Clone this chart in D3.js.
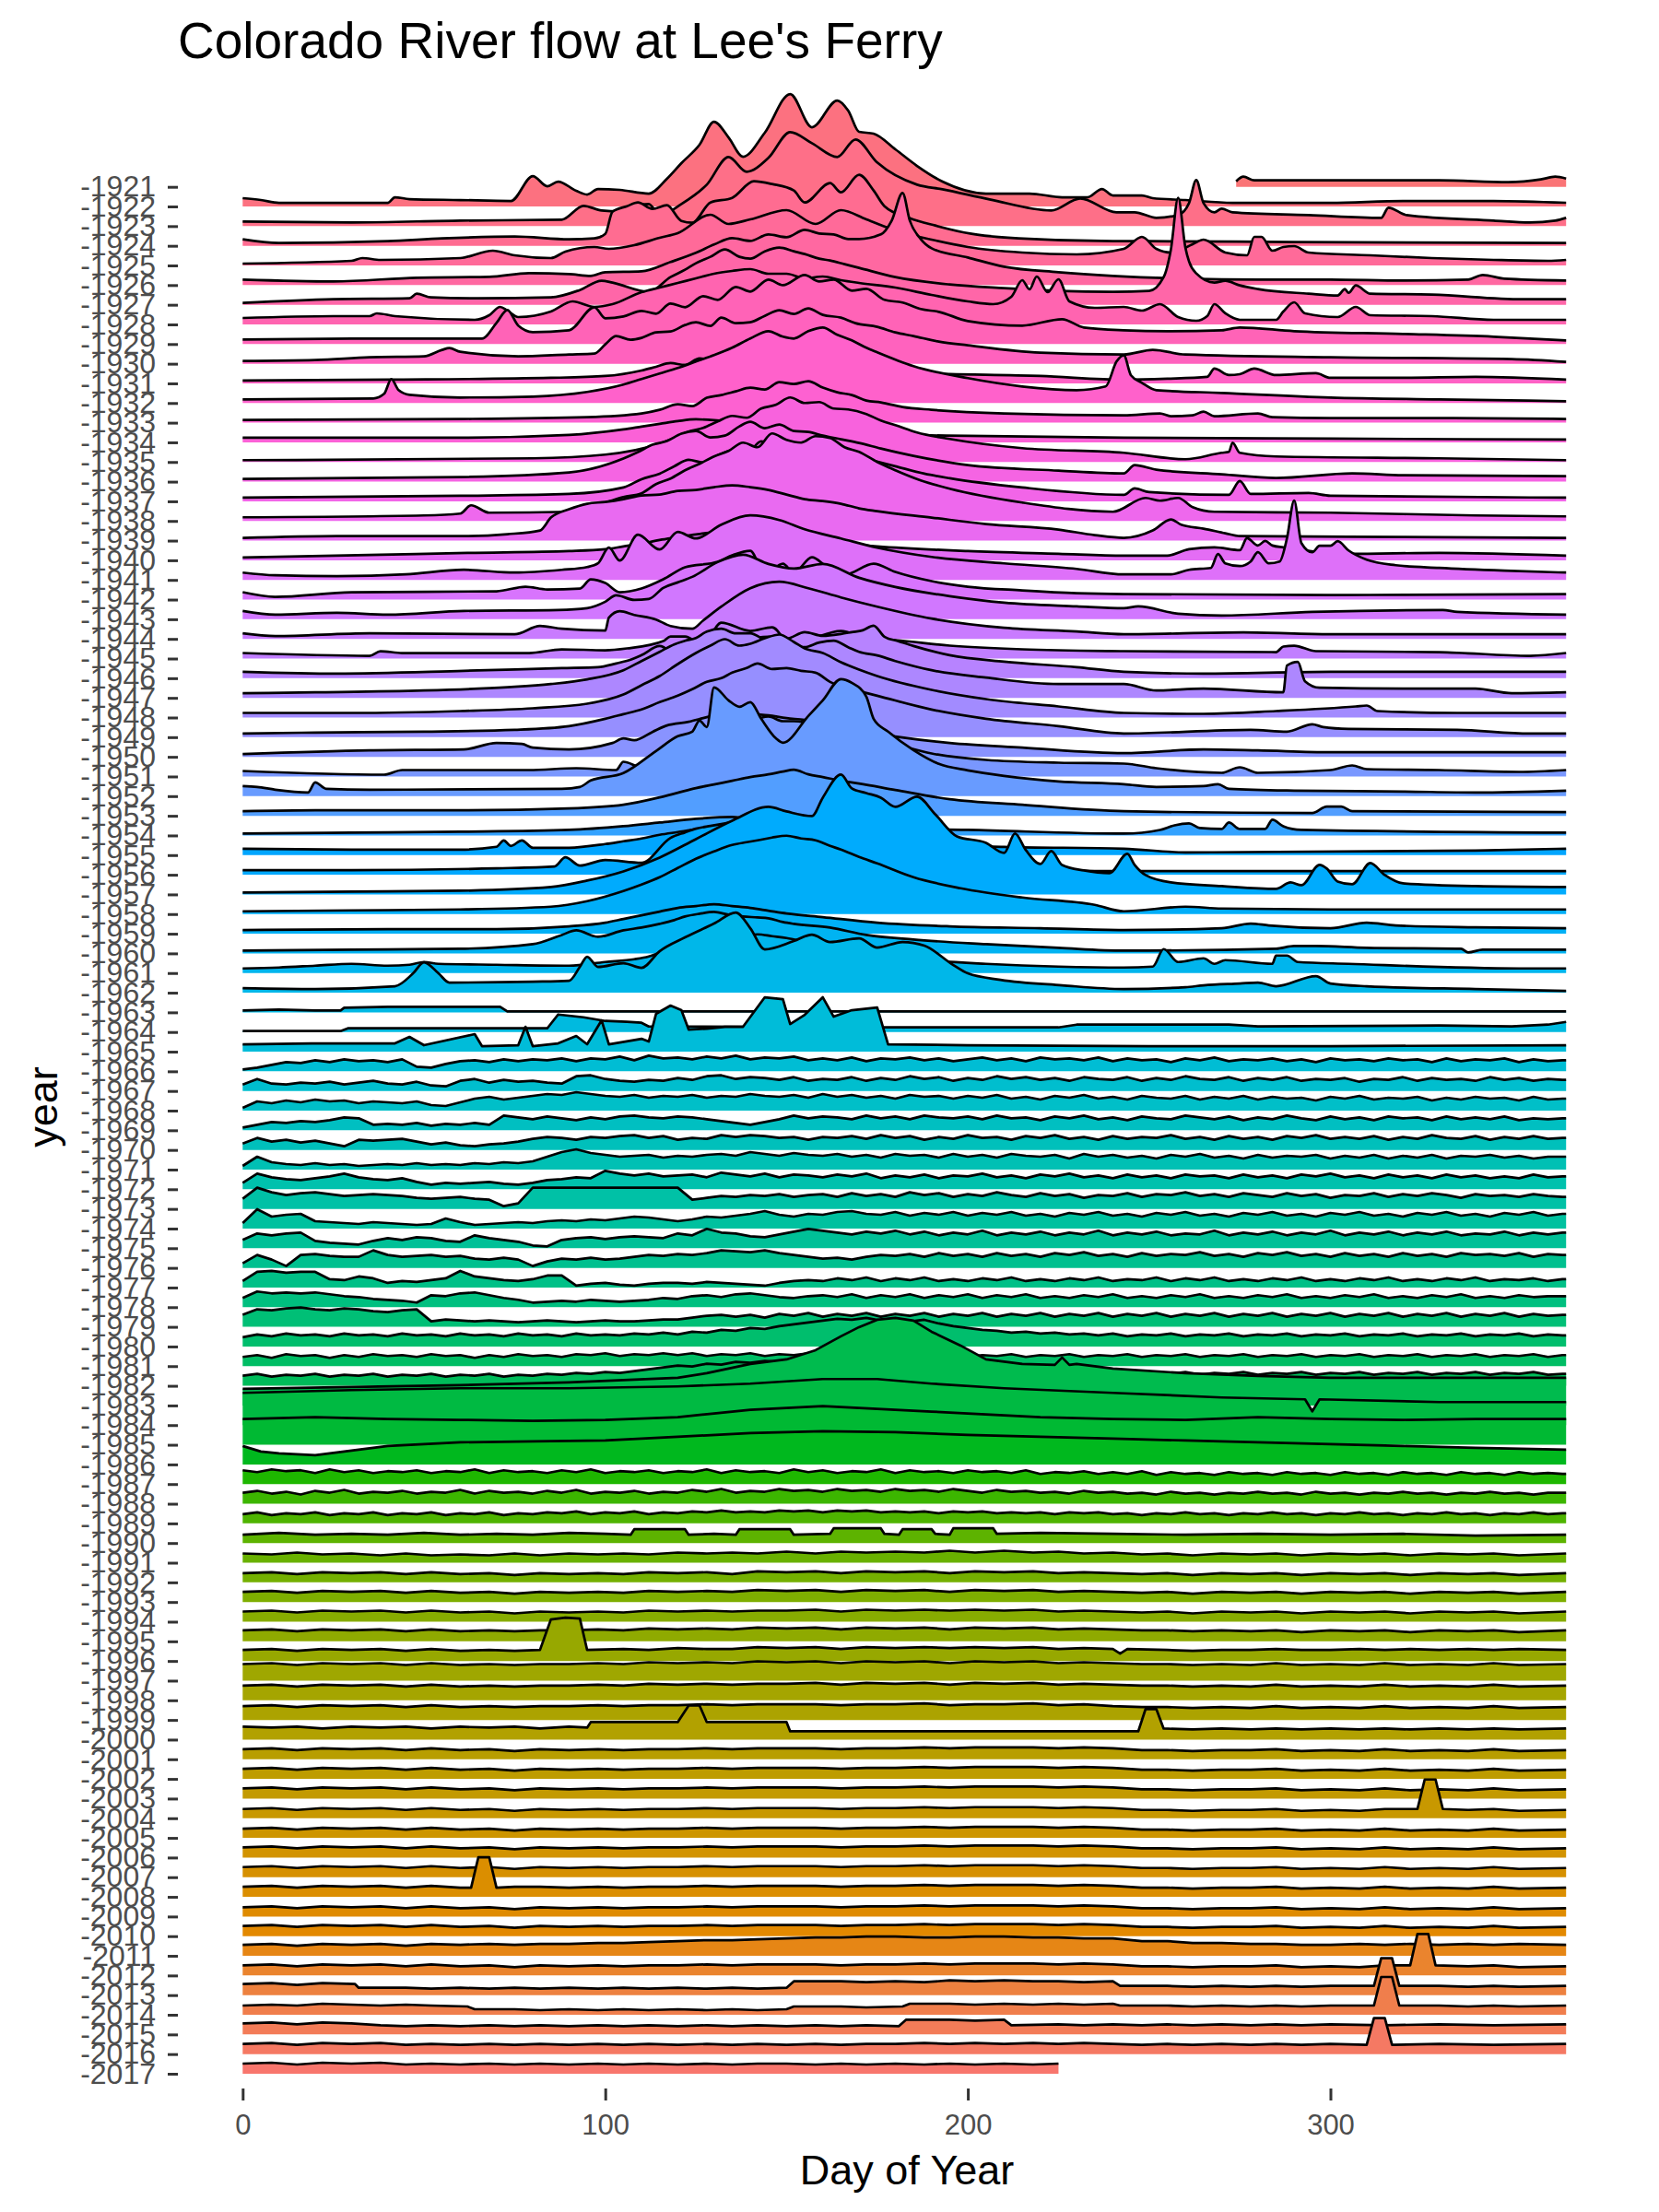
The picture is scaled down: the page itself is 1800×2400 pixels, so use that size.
<!DOCTYPE html>
<html><head><meta charset="utf-8">
<script src="https://cdn.jsdelivr.net/npm/d3@7"></script>
<style>
body{margin:0;background:#fff}
svg{display:block}
text{font-family:"Liberation Sans",Arial,Helvetica,sans-serif}
</style>
</head><body>
<svg id="chart" width="1800" height="2400"></svg>
<script>
// ---------- DATA: flow (thousand cfs). f-arrays: key points [day, flow, ...]; g-arrays: evenly spaced ~4-day readings over the year ----------
const f1921=[274,6,276,11,279,7,300,7,330,7,349,5,358,8,362,11,365,9];
const f1922=[0,9,5,7,10,4,40,4,42,10,46,8,60,7,74,6,80,33,84,22,87,27,92,17,95,13,98,19,104,18,112,14,117,30,121,47,126,67,130,92,134,75,138,54,144,80,151,122,157,86,164,115,167,104,170,81,174,79,180,62,186,44,193,27,205,14,217,14,226,10,233,10,237,19,240,12,248,12,251,9,260,7,273,4,300,4,320,6,345,6,365,4];
const f1923=[0,5,30,4,60,6,88,7,94,22,99,17,104,16,108,22,112,24,115,12,121,24,128,45,134,75,139,59,145,74,151,102,157,90,164,75,169,94,175,69,186,45,193,40,206,29,223,17,231,30,241,15,246,15,252,9,258,12,261,25,263,50,265,25,268,15,270,19,273,15,294,12,314,9,316,20,321,12,345,6,355,4,362,6,365,9];
const f1924=[0,7,10,3,40,5,55,8,75,10,90,7,97,8,100,13,102,37,106,43,109,47,113,40,117,44,121,27,124,25,129,47,135,52,141,70,146,67,152,60,155,47,162,68,165,58,170,77,174,60,177,43,184,30,191,22,201,13,214,8,240,5,250,5,290,4,365,3];
const f1925=[0,2,30,5,33,8,38,6,60,8,69,16,75,11,85,8,89,15,97,20,101,18,108,22,115,30,120,35,129,55,134,45,140,50,150,60,158,45,165,60,172,50,180,38,190,28,200,20,215,14,230,12,243,18,248,31,252,18,256,14,262,23,265,28,271,14,277,11,279,31,281,31,284,16,287,20,290,21,294,14,311,11,328,8,345,6,360,5,365,6];
const f1926=[0,6,25,4,48,8,68,9,79,13,90,12,96,10,100,14,110,15,118,25,125,35,130,44,135,51,140,48,145,55,150,52,155,60,159,56,163,55,167,50,170,50,176,55,179,70,182,100,184,70,187,50,190,40,200,30,210,20,225,14,240,10,260,7,280,6,300,6,320,5,338,6,342,11,348,7,365,5];
const f1927=[0,2,25,6,46,7,48,12,52,8,65,7,85,8,93,16,99,26,102,24,112,14,118,30,122,38,125,45,129,52,133,60,137,52,140,50,144,58,148,62,152,58,155,55,159,50,162,48,166,44,170,40,180,30,195,22,210,18,225,15,240,14,250,15,254,30,256,60,258,116,260,62,261,47,263,34,268,24,271,26,275,21,280,17,294,12,302,10,304,17,305,13,307,21,311,12,328,11,353,6,365,6];
const f1928=[0,7,25,9,35,9,37,12,42,9,64,5,68,10,71,19,73,15,76,8,85,14,91,25,97,19,102,22,110,35,115,40,120,45,125,50,130,55,135,58,140,60,145,55,150,55,155,50,160,52,165,48,170,45,180,40,190,32,200,25,207,22,212,30,215,48,217,38,219,52,222,35,225,49,228,25,235,18,243,19,248,15,253,22,258,8,263,4,266,9,268,22,271,12,275,5,285,5,287,14,290,24,293,12,302,8,307,19,311,10,328,9,345,5,365,5];
const f1929=[0,5,30,6,60,6,66,6,70,23,73,37,76,20,80,13,90,15,97,40,100,28,105,30,110,36,114,33,118,44,122,40,127,52,131,48,136,62,140,57,145,70,149,64,155,75,159,68,163,70,168,58,172,60,177,48,182,45,187,38,192,35,200,25,215,20,226,27,232,18,243,15,255,14,270,15,275,18,290,14,320,11,345,8,365,4];
const f1930=[0,3,20,4,35,7,50,8,55,15,57,17,60,13,76,8,90,10,97,11,100,21,103,30,107,26,110,28,114,34,118,35,122,42,125,45,129,41,132,50,136,44,140,45,144,52,148,58,152,54,156,60,160,53,165,50,169,44,175,40,180,34,185,30,192,24,200,20,220,12,243,10,251,15,260,10,300,7,350,5,365,2];
const f1931=[0,3,40,4,85,6,100,8,110,14,114,18,118,22,122,20,126,27,130,25,135,30,139,26,142,28,146,22,150,24,155,18,160,16,175,12,195,10,220,8,243,4,255,5,266,7,268,16,272,9,275,10,279,16,285,9,296,11,300,6,320,6,340,7,365,4];
const f1932=[0,4,36,5,39,10,41,26,43,14,46,9,60,6,80,7,95,12,105,20,110,26,115,32,120,38,125,45,130,52,135,60,140,70,145,78,149,72,152,70,156,78,160,82,164,74,168,68,172,60,175,55,185,40,200,27,215,18,230,14,238,18,241,45,243,52,245,30,248,22,252,14,270,11,300,6,330,4,365,2];
const f1933=[0,3,60,4,95,6,110,10,115,14,120,20,124,18,128,27,132,30,136,34,140,38,144,36,148,44,152,42,156,45,160,38,164,33,168,30,172,24,176,22,182,17,190,14,210,10,243,8,253,10,256,7,262,8,265,12,268,7,280,10,284,6,300,5,334,5,365,4];
const f1934=[0,5,60,5,90,8,105,14,110,17,115,20,120,23,125,25,130,24,135,22,140,18,145,15,160,10,200,7,243,5,300,4,365,3];
const f1935=[0,2,80,4,100,8,115,20,119,26,123,33,127,37,131,44,135,50,139,48,143,58,147,62,151,70,155,64,159,65,163,58,167,57,172,52,176,45,180,40,186,32,195,25,215,15,243,10,260,3,270,10,272,11,273,21,275,10,285,6,330,4,365,2];
const f1936=[0,3,60,5,90,10,105,25,109,32,113,40,117,44,121,52,125,55,129,48,133,50,137,60,140,65,144,58,148,62,152,55,156,54,160,50,165,46,170,42,176,36,185,28,200,18,225,12,243,9,246,18,252,13,270,8,285,4,306,9,320,7,365,6];
const f1937=[0,4,60,6,90,8,105,15,110,24,115,30,119,38,123,45,127,42,131,50,135,55,139,52,143,65,147,60,151,58,155,62,160,60,164,52,168,50,173,45,180,38,188,30,195,25,215,15,243,7,246,14,250,10,272,7,275,22,278,8,294,9,300,6,365,4];
const f1938=[0,4,50,6,60,8,63,17,68,9,90,10,100,20,105,26,110,30,114,40,118,46,122,55,126,62,130,70,134,76,138,85,142,80,146,95,150,88,154,85,158,92,162,90,166,80,170,75,175,64,180,55,187,44,195,35,215,20,240,10,249,25,253,22,258,25,262,15,268,10,300,9,340,6,365,5];
const f1939=[0,3,26,5,61,5,73,7,82,11,85,25,90,34,95,40,100,42,105,45,110,49,115,50,120,54,125,55,130,58,135,60,140,58,145,55,150,50,155,45,160,43,165,40,170,35,175,32,190,25,205,18,225,12,235,6,243,3,251,11,256,23,259,17,265,13,271,8,275,5,320,4,365,3];
const f1940=[0,3,38,6,62,8,90,10,100,12,105,15,110,18,115,22,120,25,125,28,130,30,135,29,140,28,145,27,150,25,155,22,160,20,175,15,200,10,225,7,243,5,255,5,261,12,268,14,275,11,277,24,280,16,282,21,284,16,287,14,305,7,330,8,365,5];
const f1941=[0,8,9,5,26,4,45,6,61,11,75,8,88,11,95,14,98,18,101,35,104,21,109,49,115,33,120,52,125,45,132,60,140,70,148,65,155,55,165,45,175,35,190,25,210,18,230,12,243,6,256,6,261,11,267,13,269,28,271,18,275,15,278,20,280,30,283,18,286,20,288,45,290,86,292,40,295,30,297,37,300,37,302,42,305,32,310,22,318,16,330,13,348,10,365,8];
const f1942=[0,8,9,3,30,8,70,9,78,14,84,11,93,12,96,22,100,18,104,8,110,12,116,22,122,35,131,41,135,48,140,53,144,27,149,39,152,29,157,46,161,36,166,27,174,39,180,30,190,20,200,14,215,10,230,7,243,6,300,5,365,6];
const f1943=[0,9,9,5,26,7,40,5,61,9,87,10,95,12,100,19,103,26,108,21,112,22,116,34,120,40,124,46,131,62,138,70,145,60,152,55,160,60,170,45,180,35,195,25,210,18,230,14,243,12,247,14,258,6,270,4,295,8,331,10,335,8,365,5];
const f1944=[0,6,9,3,35,6,75,5,82,14,88,11,100,9,101,23,104,30,108,26,114,21,118,14,124,11,127,20,132,35,140,55,148,62,156,55,165,45,175,35,190,22,210,12,230,8,243,5,276,7,300,5,365,5];
const f1945=[0,6,35,3,38,8,44,6,79,6,88,10,100,9,106,11,116,19,118,24,122,24,127,15,132,39,140,30,146,34,152,10,159,24,165,30,172,22,180,20,195,14,215,10,243,8,285,7,287,13,290,14,296,8,330,7,355,3,365,6];
const f1946=[0,7,26,5,61,8,88,11,98,12,103,16,107,20,110,25,115,35,120,25,123,28,126,30,130,36,135,40,139,37,142,44,145,45,150,43,155,50,160,46,165,48,168,50,171,52,174,57,177,45,181,40,185,35,195,25,210,18,230,12,243,7,265,5,300,7,330,7,365,7];
const f1947=[0,5,20,6,50,8,65,10,75,12,85,15,95,20,105,30,110,40,115,50,119,58,122,62,125,65,128,72,132,75,136,70,140,70,144,63,148,60,152,57,155,55,159,60,163,62,167,55,170,50,175,46,180,40,190,30,205,22,225,15,243,15,252,8,265,10,287,6,288,35,291,39,293,18,297,11,320,10,340,10,350,5,365,6];
const f1948=[0,5,30,5,60,7,80,10,95,15,105,25,110,35,115,45,120,58,125,70,129,78,133,85,137,78,140,80,144,86,148,90,152,82,155,75,160,70,165,60,170,52,175,45,190,30,205,20,225,12,243,5,265,4,285,7,307,12,310,13,313,7,335,5,365,5];
const f1949=[0,4,20,5,50,6,75,8,90,12,100,20,105,25,110,30,115,38,120,45,124,52,128,60,132,64,135,70,139,75,142,80,146,74,150,75,154,72,158,70,162,60,165,55,170,50,175,45,190,30,205,20,225,12,243,4,278,8,288,6,295,14,298,11,305,9,335,8,355,4,365,4];
const f1950=[0,3,35,7,61,8,70,15,77,14,80,10,90,8,102,15,105,20,108,18,113,27,117,34,123,38,127,42,130,45,133,48,136,50,140,47,145,45,150,42,155,40,160,36,165,32,180,22,195,15,215,10,243,4,265,8,280,7,300,5,365,5];
const f1951=[0,6,39,2,44,7,79,7,92,9,103,7,105,16,110,10,115,25,119,34,122,40,126,47,130,55,134,57,138,60,142,63,145,65,149,60,152,60,156,58,160,55,165,50,170,45,180,35,190,25,205,18,225,15,243,14,252,9,270,4,275,10,280,4,300,7,306,12,310,8,330,7,352,5,365,7];
const f1952=[0,11,4,10,9,7,18,4,20,15,23,8,35,7,88,8,93,10,96,17,105,25,114,49,120,65,124,70,126,82,128,75,130,118,134,104,137,97,140,102,143,84,147,63,149,58,156,87,160,104,165,127,168,123,172,108,174,84,178,70,185,50,192,35,200,28,210,22,225,16,243,13,252,10,265,11,269,13,272,8,290,6,320,5,340,4,365,6];
const f1953=[0,5,20,6,60,6,90,8,105,12,115,20,120,25,125,30,130,34,135,38,140,42,145,45,149,48,152,50,156,45,160,42,165,38,170,35,180,28,195,18,215,12,243,5,295,3,299,10,303,10,306,5,365,4];
const f1954=[0,2,30,3,60,4,90,6,105,10,115,14,125,18,135,20,145,15,155,10,170,8,200,6,243,2,253,6,257,11,261,13,264,8,270,7,272,14,275,7,282,7,284,17,287,10,292,6,365,3];
const f1955=[0,7,30,6,60,6,70,9,72,16,74,10,77,16,80,8,90,8,100,12,105,15,110,18,115,22,120,25,125,28,130,30,135,33,140,35,144,36,148,38,152,34,155,32,160,28,165,25,175,18,190,12,210,9,243,7,260,3,340,5,365,7];
const f1956=[0,5,30,5,70,7,86,9,89,19,93,10,100,16,110,13,118,40,122,46,125,50,129,53,132,55,136,58,140,60,144,57,148,55,153,50,158,45,168,35,180,25,195,15,215,10,235,4,243,4,300,4,365,4];
const f1957=[0,2,30,3,60,4,85,8,95,15,105,25,115,40,125,60,135,80,145,95,150,90,157,85,160,105,165,130,168,115,172,110,176,105,180,95,186,106,191,87,197,63,205,56,210,45,213,66,216,48,220,33,223,47,226,32,232,26,239,23,244,44,246,32,249,21,256,13,270,9,285,6,289,13,292,10,297,32,299,28,302,14,306,11,311,34,315,21,320,12,340,9,365,8];
const f1958=[0,3,30,4,60,5,85,8,95,14,105,25,110,32,115,40,120,50,125,60,130,68,135,75,139,78,142,80,146,83,150,85,154,82,158,80,162,74,165,70,170,62,175,55,185,40,198,28,215,18,235,10,243,3,260,8,270,6,300,5,365,5];
const f1959=[0,4,40,5,70,5,90,8,100,12,105,16,110,20,115,24,120,28,125,30,130,32,135,30,140,28,145,25,150,22,160,18,175,12,195,8,220,6,243,4,270,6,278,11,283,9,300,6,310,12,318,9,340,7,365,6];
const f1960=[0,3,30,4,60,5,80,10,88,20,92,25,98,18,105,25,110,28,115,32,119,36,122,40,126,43,130,45,134,42,138,40,142,39,145,38,149,34,152,32,162,28,172,20,185,15,205,10,225,6,243,3,285,5,290,8,296,8,310,6,336,5,338,1,342,4,365,4];
const f1961=[0,5,10,6,20,8,30,10,40,8,46,9,50,12,54,10,70,9,90,8,100,12,108,15,112,18,115,22,120,26,125,30,130,34,135,38,139,40,142,42,146,40,150,38,155,34,160,30,170,22,185,15,205,10,225,7,243,6,251,7,254,26,258,12,265,16,268,10,271,14,284,10,285,19,288,19,291,12,305,10,352,5,365,5];
const f1962=[0,5,20,4,42,7,47,21,50,33,54,21,57,11,80,12,90,13,93,28,95,39,98,28,105,32,110,27,115,45,122,60,130,75,136,87,140,70,144,47,152,56,157,63,162,55,170,59,175,49,182,55,188,51,196,30,200,21,209,14,226,8,243,4,260,6,265,8,275,10,280,11,285,7,296,18,300,10,310,7,340,4,365,2];
const f1963=[0,2,10,3,20,2,27,2,28,5,40,6,60,6,71,6,73,1,120,1,200,1,300,1,365,1];
const f1964=[0,1,27,1,29,4,60,4,84,4,87,19,94,16,100,12,106,11,110,10,112,6,175,5,225,5,230,8,272,8,280,6,330,7,350,6,360,8,365,11];
const f1965=[0,8,19,9,42,9,46,16,50,7,64,19,66,6,76,7,78,27,80,6,87,9,92,17,95,8,99,34,101,8,110,14,112,11,114,41,118,50,121,45,123,24,128,25,133,27,138,27,144,59,149,57,151,30,155,40,160,59,163,38,168,45,175,48,178,8,200,7,250,6,300,6,365,7];
const g1966=[2,4,7,10,9,12,10,13,11,12,10,13,5,4,8,11,12,10,13,11,13,12,14,11,14,13,16,12,17,14,15,13,16,14,17,13,15,14,16,12,14,12,15,11,14,13,15,12,14,11,13,15,12,14,11,15,13,14,12,15,11,14,12,13,10,14,12,15,11,13,12,14,11,13,10,14,12,13,11,14,12,13,10,14,11,13,12,14,10,13,11,12];
const g1967=[7,13,8,7,9,8,10,7,9,11,8,7,10,6,5,11,13,9,12,10,11,9,8,16,17,13,11,10,12,11,14,12,16,17,13,15,14,12,15,11,13,12,15,11,14,12,16,13,15,11,14,12,16,13,15,12,14,11,15,13,12,15,11,14,12,16,13,12,15,11,14,12,15,11,13,12,14,10,13,12,15,11,14,12,13,11,15,12,14,11,13,12];
const g1968=[3,10,8,11,9,12,10,11,8,10,9,8,10,6,5,9,13,15,12,14,16,18,17,20,18,16,15,17,14,16,15,17,14,16,15,18,16,15,17,14,18,15,17,14,16,13,17,15,16,13,16,14,17,13,15,12,16,14,17,13,15,12,16,14,13,16,12,15,13,16,12,15,13,14,11,15,13,16,12,14,13,15,11,14,12,15,13,14,11,15,12,13];
const g1969=[3,6,9,8,10,9,11,14,13,6,7,6,8,5,7,6,8,6,16,14,12,15,13,11,14,12,15,16,14,13,15,14,12,10,8,6,9,12,16,13,15,14,12,16,13,15,12,16,14,13,15,12,16,13,14,11,15,13,16,12,14,11,15,13,12,16,14,12,15,11,14,12,16,13,11,15,12,14,11,15,13,14,11,15,12,14,12,15,11,13,12,13];
const g1970=[7,13,9,11,8,10,7,4,11,10,11,12,9,6,8,5,4,6,7,9,12,14,13,11,14,13,15,16,13,15,11,13,12,16,14,16,15,13,14,11,14,13,15,12,16,13,15,11,14,12,16,13,14,11,15,13,16,12,14,11,15,12,14,13,16,12,14,11,15,12,14,11,15,13,16,12,14,12,15,11,14,12,16,13,12,15,11,14,12,15,12,13];
const g1971=[4,14,8,6,5,7,5,6,4,5,6,5,7,5,6,5,7,6,8,7,9,14,19,22,18,16,14,15,16,13,15,14,16,17,15,19,17,15,18,16,15,17,14,16,13,17,15,16,13,17,14,16,13,17,15,14,16,12,17,14,16,13,15,12,16,14,17,13,15,12,16,13,15,14,16,12,15,13,16,12,15,13,16,12,15,14,16,13,15,12,14,14];
const g1972=[7,17,13,11,10,12,14,17,13,11,10,12,8,5,7,6,7,8,6,5,7,10,11,13,12,20,17,15,17,14,15,16,13,18,16,14,17,13,16,15,13,16,14,17,12,15,13,16,12,15,14,17,13,15,12,16,14,17,13,15,12,16,13,15,12,16,14,15,12,16,13,15,12,16,14,17,13,15,12,16,13,15,12,16,13,15,12,14,12,16,13,14];
const g1973=[11,23,18,15,17,18,16,14,15,16,15,14,12,11,12,13,11,10,3,6,23,23,23,23,23,23,23,23,23,23,23,10,12,14,13,15,14,16,13,15,16,13,17,14,16,13,18,15,17,13,16,14,18,15,13,17,14,16,12,15,14,17,13,16,15,18,14,16,13,17,15,13,17,14,16,12,15,14,17,13,16,14,17,15,12,16,14,15,13,16,14,13];
const g1974=[6,21,13,15,16,8,7,6,5,7,6,5,4,5,11,7,4,5,6,7,6,8,9,8,10,9,11,13,12,10,8,10,13,12,14,16,19,15,13,16,15,18,19,16,15,18,14,17,15,18,14,17,15,18,14,16,13,17,15,18,14,16,13,17,15,18,14,16,13,17,15,18,14,16,13,17,15,18,14,16,13,17,15,18,14,16,13,17,15,18,14,16];
const g1975=[9,16,14,16,17,8,6,5,4,8,11,9,12,11,8,7,14,11,9,7,3,2,9,11,12,10,12,13,12,11,16,14,21,17,16,13,12,15,18,21,19,17,15,18,16,19,15,18,14,17,15,19,14,17,15,18,14,17,15,19,14,17,15,18,14,16,15,19,14,17,15,18,14,17,15,19,14,17,15,18,14,17,15,18,14,16,15,18,14,17,15,17];
const g1976=[5,14,9,2,14,15,13,12,12,19,14,12,13,14,12,13,10,9,11,9,2,7,10,9,11,9,10,12,14,13,15,14,16,19,18,17,19,16,14,12,10,11,9,12,14,13,15,12,16,13,15,12,16,13,15,12,16,14,17,13,15,12,16,13,15,14,17,13,15,12,16,14,17,13,15,12,16,13,15,12,16,13,15,12,16,14,15,13,16,12,15,14];
const g1977=[7,17,18,16,17,17,9,8,12,10,5,7,6,8,10,18,12,10,8,7,9,13,13,2,4,5,3,2,4,5,5,4,6,5,4,3,2,5,7,8,7,10,8,11,7,10,8,11,7,9,7,10,8,11,7,9,7,10,8,11,7,9,8,11,7,10,8,11,7,9,7,10,8,11,7,9,7,10,8,11,7,9,7,10,8,11,7,9,8,10,7,9];
const g1978=[10,17,15,16,15,16,14,12,11,9,8,7,5,13,12,15,16,13,10,8,5,6,7,6,8,7,6,7,8,10,9,12,13,11,14,15,13,11,10,12,13,11,14,10,13,11,14,10,13,11,14,10,13,11,14,10,12,10,13,11,14,10,12,10,13,11,14,10,12,10,13,11,14,10,12,10,13,11,14,10,12,10,13,11,14,10,12,10,13,11,12,12];
const g1979=[13,19,18,20,21,19,18,20,19,17,16,18,19,6,8,7,6,7,6,5,6,7,6,5,6,7,6,6,7,8,8,10,12,13,11,13,10,14,12,15,11,14,12,15,11,14,12,15,11,14,12,15,11,14,12,15,11,14,12,15,11,14,12,15,11,14,12,15,11,14,12,15,11,14,12,15,11,14,12,15,11,14,12,15,11,14,12,15,11,14,12,13];
const g1980=[10,13,11,14,12,13,11,14,12,13,11,14,12,13,11,14,12,13,11,14,12,13,11,14,12,13,12,14,13,15,13,16,15,18,17,20,19,22,24,26,28,30,29,31,28,30,27,29,25,22,20,18,17,15,16,14,15,13,14,12,14,11,13,12,14,11,13,12,14,11,13,12,14,11,13,12,14,11,13,12,14,11,13,12,14,11,13,12,14,11,13,12];
const g1981=[10,12,9,13,11,12,9,12,10,13,11,12,10,13,11,12,9,12,10,13,11,12,10,13,12,14,11,13,12,14,12,14,11,13,12,14,11,13,12,14,11,13,12,14,11,13,10,12,11,13,10,12,11,13,10,12,11,13,10,12,11,13,10,12,11,13,10,12,11,13,10,12,11,13,10,12,11,13,10,12,11,13,10,12,11,13,10,12,11,13,10,12];
const g1982=[11,13,10,12,11,13,10,12,11,13,10,12,11,13,10,12,11,13,10,12,11,13,12,14,13,15,14,16,18,20,22,21,24,23,26,25,27,26,28,27,28,26,27,25,28,26,27,25,26,24,25,23,24,22,21,19,18,16,15,14,13,15,12,14,13,15,12,14,13,15,12,14,13,15,12,14,13,15,12,14,13,15,12,14,13,15,12,14,13,15,12,13];
const f1983=[0,18,30,20,60,22,90,25,120,30,128,35,140,45,150,50,158,60,165,75,170,85,175,93,180,95,185,92,190,80,198,65,205,50,215,45,224,44,226,52,228,44,230,45,240,40,260,35,280,32,300,30,330,30,365,30];
const f1984=[0,35,30,38,60,40,90,40,120,42,140,45,160,50,175,50,190,45,210,40,240,35,270,30,293,28,295,15,297,28,330,25,365,25];
const f1985=[0,28,20,30,40,28,60,27,80,26,100,27,120,30,130,34,140,38,150,40,160,42,170,40,180,38,190,36,200,34,210,32,220,30,240,28,260,27,280,30,300,28,320,27,340,28,365,28];
const f1986=[0,20,5,14,10,12,20,10,30,15,40,20,50,22,60,24,80,25,100,26,120,30,140,34,160,36,180,35,200,32,220,30,240,28,260,26,280,24,300,22,320,20,340,18,365,16];
const g1987=[15,13,16,14,15,12,16,13,15,12,14,13,15,12,14,13,16,12,15,13,14,12,15,13,16,12,14,13,15,12,14,13,16,12,15,13,14,12,16,13,15,12,14,13,16,12,15,13,14,12,15,13,14,12,15,11,13,12,14,11,13,11,14,10,13,11,12,10,13,11,12,10,13,11,12,10,13,11,12,10,13,11,12,10,13,11,12,10,13,11,12,11];
const g1988=[12,14,11,13,10,14,12,15,11,13,12,14,11,13,12,15,11,14,12,13,11,14,12,15,11,13,12,14,11,13,12,15,13,16,12,14,13,16,14,15,13,16,14,15,13,16,14,15,13,16,14,12,15,13,14,12,13,11,14,12,13,11,12,10,13,11,12,10,12,11,13,11,12,10,13,11,12,10,12,11,13,11,12,10,12,11,13,11,12,10,12,12];
const g1989=[10,12,9,11,10,12,9,11,10,12,9,11,10,12,9,11,10,12,9,11,10,12,11,13,10,12,11,13,10,12,11,13,12,14,12,13,12,14,13,14,12,14,13,14,12,13,12,13,11,13,12,13,11,12,11,12,10,12,11,12,10,11,9,11,10,12,10,11,9,11,10,12,10,11,9,11,10,12,10,11,9,11,10,12,10,11,9,11,10,12,10,11];
const f1990=[0,9,10,11,20,9,30,10,40,9,50,11,60,9,70,10,80,9,90,11,100,10,107,9,108,15,122,15,123,9,130,10,136,9,137,15,151,15,152,9,162,10,163,16,176,16,177,10,181,9,182,15,190,15,191,10,195,9,196,16,207,16,208,10,220,11,240,10,260,9,280,10,300,9,320,10,340,8,365,9];
const f1991=[0,10,8,9,15,11,22,9,30,10,38,8,45,10,52,8,60,9,68,8,75,10,82,8,90,10,98,9,105,10,112,9,120,11,128,10,135,11,142,10,150,12,158,10,165,12,172,11,180,12,188,11,195,13,202,11,210,13,218,11,225,12,232,10,240,11,248,9,255,10,262,8,270,10,278,9,285,10,292,8,300,10,308,9,315,10,322,8,330,10,338,9,345,10,352,8,365,10];
const f1992=[0,10,8,11,15,9,22,11,30,10,38,11,45,9,52,11,60,9,68,10,75,8,82,10,90,9,98,10,105,9,112,11,120,10,128,11,135,9,142,12,150,11,158,12,165,10,172,12,180,11,188,12,195,10,202,12,210,11,218,12,225,10,232,11,240,10,248,9,255,10,262,8,270,10,278,9,285,10,292,8,300,10,308,9,315,10,322,8,330,10,338,9,345,10,352,8,365,10];
const f1993=[0,11,8,12,15,10,22,12,30,11,38,12,45,10,52,12,60,10,68,11,75,9,82,11,90,10,98,11,105,10,112,12,120,11,128,12,135,11,142,13,150,12,158,13,165,11,172,13,180,12,188,13,195,11,202,13,210,12,218,13,225,11,232,12,240,11,248,10,255,11,262,9,270,11,278,10,285,11,292,9,300,11,308,10,315,11,322,9,330,11,338,10,345,11,352,9,365,11];
const f1994=[0,11,8,12,15,10,22,12,30,11,38,12,45,10,52,12,60,10,68,11,75,9,82,11,90,10,98,11,105,10,112,12,120,11,128,12,135,11,142,12,150,12,158,13,165,11,172,13,180,12,188,13,195,12,202,13,210,12,218,13,225,11,232,12,240,11,248,10,255,11,262,9,270,11,278,10,285,11,292,9,300,11,308,10,315,11,322,9,330,11,338,10,345,11,352,9,365,11];
const f1995=[0,12,8,13,15,11,22,13,30,12,38,13,45,11,52,13,60,11,68,12,75,11,82,12,90,12,98,13,105,12,112,14,120,13,128,14,135,13,142,15,150,14,158,15,165,13,172,15,180,14,188,15,195,13,202,15,210,14,218,15,225,13,232,14,240,13,248,12,255,12,262,11,270,12,278,11,285,12,292,10,300,12,308,11,315,12,322,10,330,12,338,11,345,12,352,10,365,12];
const f1996=[0,12,8,13,15,11,22,13,30,12,38,13,45,11,52,13,60,11,68,12,75,11,82,12,85,45,89,47,93,46,95,12,105,13,112,12,120,14,128,13,135,13,142,15,150,14,158,15,165,13,172,15,180,14,188,15,195,14,202,15,210,14,218,15,225,13,232,14,240,13,242,8,244,13,255,12,262,11,270,12,278,12,285,13,292,12,300,12,308,13,315,12,322,13,330,12,338,13,345,12,352,13,365,12];
const f1997=[0,18,8,19,15,17,22,19,30,18,38,19,45,17,52,19,60,17,68,18,75,17,82,18,90,18,98,19,105,18,112,20,120,19,128,20,135,19,142,21,150,20,158,21,165,19,172,21,180,20,188,21,195,19,202,21,210,20,218,21,225,19,232,20,240,19,248,18,255,18,262,17,270,18,278,17,285,19,292,17,300,18,308,17,315,19,322,17,330,18,338,17,345,19,352,17,365,18];
const f1998=[0,16,8,17,15,15,22,17,30,16,38,17,45,15,52,17,60,15,68,16,75,15,82,16,90,16,98,17,105,16,112,18,120,17,128,18,135,17,142,18,150,18,158,19,165,17,172,19,180,18,188,19,195,17,202,19,210,18,218,19,225,17,232,18,240,17,248,16,255,16,262,15,270,16,278,15,285,17,292,15,300,16,308,15,315,17,322,15,330,16,338,15,345,17,352,15,365,16];
const f1999=[0,15,8,16,15,14,22,16,30,15,38,16,45,14,52,16,60,14,68,15,75,14,82,15,90,15,98,16,105,15,112,16,120,16,128,17,135,16,142,17,150,17,158,17,165,16,172,17,180,17,188,18,195,16,202,17,210,17,218,18,225,16,232,17,240,15,248,14,255,14,262,13,270,14,278,13,285,15,292,13,300,14,308,13,315,15,322,13,330,14,338,13,345,15,352,13,365,14];
const f2000=[0,14,8,13,15,14,22,12,30,14,38,13,45,14,52,12,60,14,68,13,75,14,82,12,90,14,95,13,96,19,110,19,120,19,123,37,126,37,128,19,140,19,150,19,151,9,175,9,200,9,225,9,247,9,249,33,252,33,254,12,262,11,270,12,278,11,285,12,292,11,300,12,308,11,315,12,322,11,330,12,338,11,345,12,352,11,365,12];
const f2001=[0,11,8,12,15,10,22,12,30,11,38,12,45,10,52,12,60,10,68,11,75,9,82,11,90,10,98,11,105,10,112,11,120,11,128,12,135,11,142,12,150,12,158,12,165,11,172,12,180,12,188,13,195,12,202,13,210,13,218,13,225,12,232,13,240,12,248,10,255,10,262,9,270,10,278,10,285,11,292,9,300,10,308,9,315,11,322,9,330,10,338,9,345,11,352,9,365,10];
const f2002=[0,11,8,12,15,10,22,12,30,11,38,12,45,10,52,12,60,10,68,11,75,9,82,11,90,10,98,11,105,10,112,11,120,11,128,12,135,11,142,12,150,12,158,12,165,11,172,12,180,12,188,13,195,12,202,13,210,13,218,13,225,12,232,13,240,12,248,10,255,10,262,9,270,10,278,10,285,11,292,9,300,10,308,9,315,11,322,9,330,10,338,9,345,11,352,9,365,10];
const f2003=[0,11,8,12,15,10,22,12,30,11,38,12,45,10,52,12,60,10,68,11,75,9,82,11,90,10,98,11,105,10,112,11,120,11,128,12,135,11,142,12,150,12,158,12,165,11,172,12,180,12,188,13,195,12,202,13,210,13,218,13,225,12,232,13,240,12,248,10,255,10,262,9,270,10,278,10,285,11,292,9,300,10,308,9,315,11,322,9,330,10,338,9,345,11,352,9,365,10];
const f2004=[0,10,8,11,15,9,22,11,30,10,38,11,45,9,52,11,60,9,68,10,75,8,82,10,90,9,98,10,105,9,112,10,120,10,128,11,135,10,142,11,150,11,158,11,165,10,172,11,180,11,188,12,195,11,202,12,210,12,218,12,225,11,232,12,240,11,248,9,255,9,262,8,270,9,278,9,285,10,292,8,300,9,308,8,315,10,324,10,326,42,329,42,331,10,338,9,345,10,352,8,365,9];
const f2005=[0,10,8,11,15,9,22,11,30,10,38,11,45,9,52,11,60,9,68,10,75,8,82,10,90,9,98,10,105,9,112,10,120,10,128,11,135,10,142,11,150,11,158,11,165,10,172,11,180,11,188,12,195,11,202,12,210,12,218,12,225,11,232,12,240,11,248,9,255,9,262,8,270,9,278,9,285,10,292,8,300,9,308,8,315,10,322,8,330,9,338,8,345,10,352,8,365,9];
const f2006=[0,11,8,12,15,10,22,12,30,11,38,12,45,10,52,12,60,10,68,11,75,9,82,11,90,10,98,11,105,10,112,11,120,11,128,12,135,11,142,12,150,12,158,12,165,11,172,12,180,12,188,13,195,12,202,13,210,13,218,13,225,12,232,13,240,12,248,10,255,10,262,9,270,10,278,10,285,11,292,9,300,10,308,9,315,11,322,9,330,10,338,9,345,11,352,9,365,10];
const f2007=[0,11,8,12,15,10,22,12,30,11,38,12,45,10,52,12,60,10,68,11,75,9,82,11,90,10,98,11,105,10,112,11,120,11,128,12,135,11,142,12,150,12,158,12,165,11,172,12,180,12,188,13,195,12,202,13,210,13,218,13,225,12,232,13,240,12,248,10,255,10,262,9,270,10,278,10,285,11,292,9,300,10,308,9,315,11,322,9,330,10,338,9,345,11,352,9,365,10];
const f2008=[0,11,8,12,15,10,22,12,30,11,38,12,45,10,52,12,60,10,63,10,65,43,68,43,70,10,75,11,82,11,90,10,98,11,105,10,112,11,120,11,128,12,135,11,142,12,150,12,158,12,165,11,172,12,180,12,188,13,195,12,202,13,210,13,218,13,225,12,232,13,240,12,248,10,255,10,262,9,270,10,278,10,285,11,292,9,300,10,308,9,315,11,322,9,330,10,338,9,345,11,352,9,365,10];
const f2009=[0,10,8,11,15,9,22,11,30,10,38,11,45,9,52,11,60,9,68,10,75,8,82,10,90,9,98,10,105,9,112,10,120,10,128,11,135,10,142,11,150,11,158,11,165,10,172,11,180,11,188,12,195,11,202,12,210,12,218,12,225,11,232,12,240,11,248,9,255,9,262,8,270,9,278,9,285,10,292,8,300,9,308,8,315,10,322,8,330,9,338,8,345,10,352,8,365,9];
const f2010=[0,11,8,12,15,10,22,12,30,11,38,12,45,10,52,12,60,10,68,11,75,9,82,11,90,10,98,11,105,10,112,11,120,11,128,12,135,11,142,12,150,12,158,12,165,11,172,12,180,12,188,13,195,12,202,13,210,13,218,13,225,12,232,13,240,12,248,10,255,10,262,9,270,10,278,10,285,11,292,9,300,10,308,9,315,11,322,9,330,10,338,9,345,11,352,9,365,10];
const f2011=[0,12,8,13,15,11,22,13,30,12,38,13,45,11,52,13,60,12,68,13,75,12,82,13,90,13,98,14,105,14,112,15,120,16,128,17,135,17,142,18,150,19,158,20,165,20,172,21,180,21,188,20,195,20,202,21,210,21,218,20,225,20,232,19,240,19,248,16,255,16,262,14,270,14,278,13,285,13,292,12,300,12,308,13,315,12,322,13,330,12,338,13,345,12,352,13,365,12];
const f2012=[0,11,8,12,15,10,22,12,30,11,38,12,45,10,52,12,60,10,68,11,75,9,82,11,90,10,98,11,105,10,112,11,120,11,128,12,135,11,142,12,150,12,158,12,165,11,172,12,180,12,188,13,195,12,202,13,210,13,218,13,225,12,232,13,240,12,248,10,255,10,262,9,270,10,278,10,285,11,292,9,300,10,308,9,315,11,322,11,324,45,327,45,329,11,338,10,345,11,352,9,365,10];
const f2013=[0,12,8,13,15,11,22,13,31,12,32,8,45,8,52,7,60,8,68,7,75,8,82,7,90,8,98,7,105,8,112,7,120,8,128,7,135,8,142,7,150,8,152,15,165,15,172,14,180,15,188,14,195,16,202,15,210,16,218,15,225,15,232,14,240,15,242,10,255,10,262,9,270,10,278,9,285,10,292,9,300,10,312,10,314,40,317,40,319,10,330,10,338,9,345,10,352,9,365,10];
const f2014=[0,10,8,11,15,10,22,12,30,11,38,10,45,11,52,10,62,9,64,6,75,6,82,5,90,6,98,5,105,6,112,5,120,6,128,5,135,6,142,5,150,6,152,9,165,9,172,8,182,9,184,12,195,12,202,11,210,12,218,11,225,12,232,11,240,12,242,10,255,10,262,9,270,10,278,9,285,10,292,9,300,10,312,10,314,41,317,41,319,10,330,10,338,9,345,10,352,9,365,10];
const f2015=[0,12,8,13,15,11,22,13,30,12,38,10,45,9,52,10,60,9,68,10,75,9,82,10,90,9,98,10,105,9,112,10,120,9,128,10,135,9,142,10,150,9,158,10,165,9,172,10,181,9,183,16,195,16,202,15,210,16,212,10,225,11,232,10,240,11,248,10,255,11,262,10,270,11,278,10,285,11,292,10,300,11,315,10,330,11,345,10,365,11];
const f2016=[0,11,8,12,15,10,22,12,30,11,38,12,45,10,52,11,60,10,68,11,75,10,82,11,90,10,98,11,105,10,112,11,120,10,128,11,135,10,142,11,150,10,158,11,165,10,172,11,180,11,188,12,195,11,202,12,210,11,218,12,225,11,232,12,240,11,248,10,255,11,262,10,270,11,278,10,285,11,292,10,300,11,310,10,312,39,315,39,317,10,330,11,345,10,365,11];
const f2017=[0,11,8,12,15,10,22,12,30,11,38,12,45,10,52,11,60,10,68,11,75,10,82,11,90,10,98,11,105,10,112,11,120,10,128,11,135,10,142,11,150,11,158,10,165,11,172,10,180,11,188,10,195,11,202,10,210,11,218,10,225,11];

const years=d3.range(1921,2018);
const flows=[f1921,f1922,f1923,f1924,f1925,f1926,f1927,f1928,f1929,f1930,f1931,f1932,f1933,f1934,f1935,f1936,f1937,f1938,f1939,f1940,f1941,f1942,f1943,f1944,f1945,f1946,f1947,f1948,f1949,f1950,f1951,f1952,f1953,f1954,f1955,f1956,f1957,f1958,f1959,f1960,f1961,f1962,f1963,f1964,f1965,g1966,g1967,g1968,g1969,g1970,g1971,g1972,g1973,g1974,g1975,g1976,g1977,g1978,g1979,g1980,g1981,g1982,f1983,f1984,f1985,f1986,g1987,g1988,g1989,f1990,f1991,f1992,f1993,f1994,f1995,f1996,f1997,f1998,f1999,f2000,f2001,f2002,f2003,f2004,f2005,f2006,f2007,f2008,f2009,f2010,f2011,f2012,f2013,f2014,f2015,f2016,f2017];
const gridYears=[1966,1967,1968,1969,1970,1971,1972,1973,1974,1975,1976,1977,1978,1979,1980,1981,1982,1987,1988,1989];
const yearLabels=years.map(y=>"-"+y);
const xTicks=[0,100,200,300];
const xTickLabels=["0","100","200","300"];

// ---------- colours: ggplot2 discrete hue palette (polar LUV), level 1 = 2017 ----------
function hclLuv(h,c,l){
  const hr=h*Math.PI/180,u=c*Math.cos(hr),v=c*Math.sin(hr);
  const Xn=95.047,Yn=100,Zn=108.883,den=Xn+15*Yn+3*Zn;
  const un=4*Xn/den,vn=9*Yn/den;
  const Y=l>8?Yn*Math.pow((l+16)/116,3):Yn*l/903.3;
  const up=u/(13*l)+un,vp=v/(13*l)+vn;
  const X=9*Y*up/(4*vp),Z=-X/3-5*Y+3*Y/vp;
  const x=X/100,y=Y/100,z=Z/100;
  const r=3.240479*x-1.537150*y-0.498535*z;
  const g=-0.969256*x+1.875992*y+0.041556*z;
  const b=0.055648*x-0.204043*y+1.057311*z;
  const gm=t=>{t=t<=0.0031308?12.92*t:1.055*Math.pow(t,1/2.4)-0.055;return Math.round(255*Math.max(0,Math.min(1,t)));};
  return d3.rgb(gm(r),gm(g),gm(b)).formatHex();
}
const nLev=years.length;
const colour=yr=>hclLuv(15+360*(2017-yr)/nLev,100,65);

// ---------- scales ----------
const svg=d3.select("#chart");
svg.append("rect").attr("width",1800).attr("height",2400).attr("fill","#fff");
const xScale=d3.scaleLinear().domain([0,365]).range([263.3,263.3+365*3.934]);
const yScale=d3.scaleLinear().domain([-2017,-1921]).range([2250,202.7]);
const hScale=d3.scaleLinear().domain([0,100]).range([0,100]);

// ---------- ridges (drawn top to bottom so lower years overlap) ----------
const gR=svg.append("g");
years.forEach((yr,i)=>{
  const a=flows[i];
  let pts=[];
  if(gridYears.includes(yr)){
    pts=a.map((v,k)=>[k*364/(a.length-1),v]);
    pts.push([365,a[a.length-1]]);
  } else {
    for(let k=0;k<a.length;k+=2)pts.push([a[k],a[k+1]]);
  }
  const base=yScale(-yr);
  const curve=yr>=1963?d3.curveLinear:d3.curveMonotoneX;
  const area=d3.area().x(d=>xScale(d[0])).y0(base).y1(d=>base-hScale(d[1])).curve(curve);
  const line=d3.line().x(d=>xScale(d[0])).y(d=>base-hScale(d[1])).curve(curve);
  gR.append("path").attr("d",area(pts)).attr("fill",colour(yr)).attr("stroke","none");
  gR.append("path").attr("d",line(pts)).attr("fill","none").attr("stroke","#000").attr("stroke-width",2.7).attr("stroke-linejoin","round");
});

// ---------- axes ----------
const gy=svg.append("g").attr("transform","translate(193,0)")
  .call(d3.axisLeft(yScale).tickValues(years.map(y=>-y)).tickFormat((d,i)=>yearLabels[i]).tickSize(11).tickPadding(13));
gy.select(".domain").remove();
gy.selectAll(".tick line").attr("stroke","#333").attr("stroke-width",3);
gy.selectAll(".tick text").attr("fill","#4D4D4D").style("font-size","32px");

const gx=svg.append("g").attr("transform","translate(0,2266)")
  .call(d3.axisBottom(xScale).tickValues(xTicks).tickFormat((d,i)=>xTickLabels[i]).tickSize(13).tickPadding(15));
gx.select(".domain").remove();
gx.selectAll(".tick line").attr("stroke","#333").attr("stroke-width",3);
gx.selectAll(".tick text").attr("fill","#4D4D4D").style("font-size","31px");

// ---------- titles ----------
svg.append("text").attr("x",193).attr("y",63).style("font-size","55px").attr("fill","#000").text("Colorado River flow at Lee's Ferry");
svg.append("text").attr("x",984).attr("y",2370).attr("text-anchor","middle").style("font-size","45px").attr("fill","#000").text("Day of Year");
svg.append("text").attr("transform","translate(62,1201) rotate(-90)").attr("text-anchor","middle").style("font-size","45px").attr("fill","#000").text("year");
</script>
</body></html>
